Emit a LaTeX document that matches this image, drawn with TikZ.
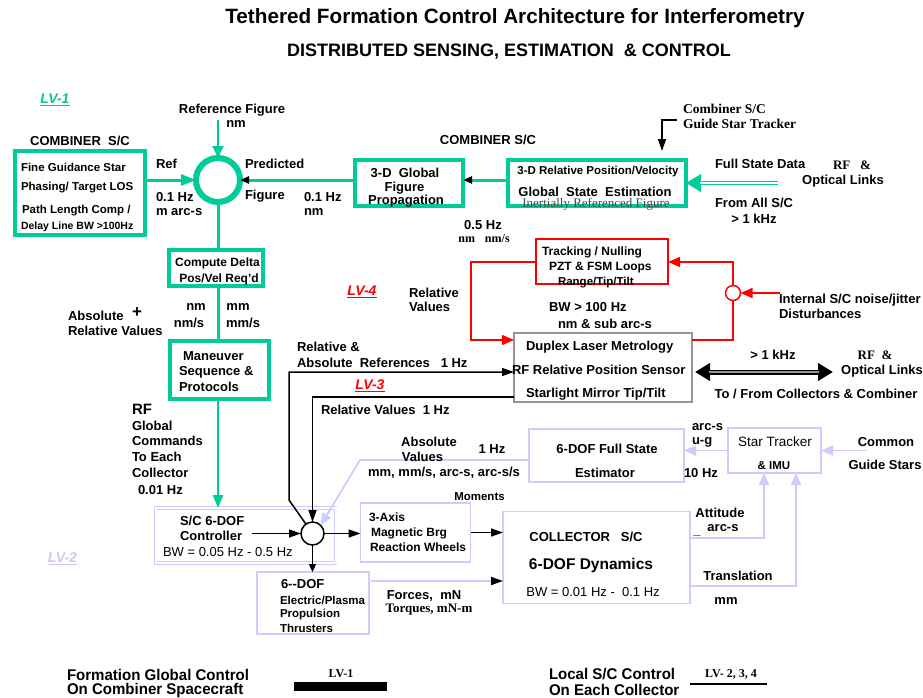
\documentclass[tikz,border=0pt]{standalone}
\usepackage{fontspec}
\setmainfont{Liberation Sans}
\newfontfamily\tms{Liberation Serif}
\newfontfamily\narrowf[FakeStretch=0.97]{Liberation Sans}
\usetikzlibrary{arrows.meta}
\definecolor{grn}{RGB}{0,204,153}
\definecolor{lav}{RGB}{204,204,255}
\definecolor{lavt}{RGB}{200,200,248}
\definecolor{gryb}{RGB}{150,150,150}
\definecolor{dgry}{RGB}{70,70,70}
\tikzset{
  every node/.style={inner sep=0pt, outer sep=0pt},
  lbl/.style={font=\bfseries\fontsize{13}{15}\selectfont},
  lbls/.style={font=\bfseries\fontsize{11.5}{13}\selectfont},
  lblr/.style={font=\fontsize{13}{15}\selectfont},
  tmsb/.style={font=\tms\bfseries\fontsize{13}{15}\selectfont},
  lvlbl/.style={font=\bfseries\itshape\fontsize{14}{16}\selectfont},
  gbox/.style={draw=grn, line width=4pt},
  lbox/.style={draw=lav, line width=1.5pt},
  rbox/.style={draw=red, line width=1.5pt},
  kbox/.style={draw=gryb, line width=1.5pt},
  garr/.style={draw=grn, line width=3pt, -{Triangle[length=15pt,width=11pt]}},
  garrk/.style={draw=grn, line width=3pt, -{Triangle[length=9pt,width=7pt,color=black]}},
  gline/.style={draw=grn, line width=3pt},
  karr/.style={draw=black, line width=1.5pt, -{Triangle[length=12pt,width=8pt]}},
  larr/.style={draw=lav, line width=1.8pt, -{Triangle[length=12pt,width=10pt]}},
  larrk/.style={draw=lav, line width=1.8pt, -{Triangle[length=12pt,width=8pt,color=black]}},
  rarr/.style={draw=red, line width=1.5pt, -{Triangle[length=12pt,width=10pt]}},
  rline/.style={draw=red, line width=1.5pt},
  legf/.style={font=\narrowf\bfseries\fontsize{15.5}{14}\selectfont},
}
\begin{document}
\begin{tikzpicture}[x=1pt,y=-1pt]
\useasboundingbox[fill=white] (0,0) rectangle (923,698);

% titles
\node[font=\bfseries\fontsize{20.7}{23}\selectfont] (title) at (515,18) {Tethered Formation Control Architecture for Interferometry};
\node[font=\bfseries\fontsize{18}{20}\selectfont] (subtitle) at (509,52) {DISTRIBUTED SENSING, ESTIMATION\ \ \& CONTROL};

% ---------- LV-1 region ----------
\node[lvlbl, text=grn] (lv1) at (55,100) {\underline{LV-1}};
\node[lbl] (combl) at (80,141) {COMBINER\ \ S/C};
\node[gbox, minimum width=130pt, minimum height=84pt] (combox) at (80,193) {};
\node[lbls, anchor=west] (cb1) at (21,167) {Fine Guidance Star};
\node[lbls, anchor=west] (cb2) at (21,188) {Phasing/ Target LOS};
\node[lbls, anchor=west] (cb3) at (22,211) {Path Length Comp /};
\node[font=\bfseries\fontsize{10.5}{12}\selectfont, anchor=west] (cb4) at (21,227) {Delay Line BW >100Hz};

\node[circle, draw=grn, line width=6pt, minimum size=44pt] (sum1) at (218,180) {};
\node[lbl] (reffig) at (232,110) {Reference Figure};
\node[lbl] (reffignm) at (236,124) {nm};
\coordinate (reftop) at (218,120);
\draw[draw=grn, line width=2pt, -{Triangle[length=12pt,width=11pt]}] (reftop) -- (sum1.north);

\draw[garr] (combox.east |- sum1.west) -- (sum1.west);
\node[lbl, anchor=west] (refl) at (156,164) {Ref};
\node[lbl, anchor=west] (refhz) at (156,197) {0.1 Hz};
\node[lbl, anchor=west] (refarc) at (156,212) {m arc-s};

\node[lbl, anchor=west] (predl) at (245,164) {Predicted};
\node[lbl, anchor=west] (predf) at (245,196) {Figure};
\node[lbl, anchor=west] (predhz) at (304,197) {0.1 Hz};
\node[lbl, anchor=west] (prednm) at (304,212) {nm};

\node[lbl] (combl2) at (488,140) {COMBINER S/C};
\node[gbox, minimum width=108pt, minimum height=46pt] (glob) at (409,183) {};
\node[lbl] (gl1) at (405,173) {3-D\ \ Global};
\node[lbl] (gl2) at (404.5,188) {Figure};
\node[lbl] (gl3) at (406,201) {Propagation};
\draw[garrk] (glob.west |- sum1.east) -- (sum1.east);

\node[gbox, minimum width=178pt, minimum height=46pt] (rel) at (597,183) {};
\node[font=\bfseries\fontsize{11.5}{13}\selectfont] (rl1) at (598,172) {3-D Relative Position/Velocity};
\node[lbl] (rl2) at (595,191.5) {Global\ \ State\ \ Estimation};
\node[font=\tms\fontsize{13}{15}\selectfont, text=dgry] (rl3) at (596,204.5) {Inertially Referenced Figure};
\draw[garrk] (rel.west |- sum1.east) -- (glob.east |- sum1.east);

\node[lbl] (hz05) at (483,225.5) {0.5 Hz};
\node[font=\tms\bfseries\fontsize{12}{14}\selectfont] (nmnms) at (484,239) {nm\hspace{10pt}nm/s};

\node[font=\tms\bfseries\fontsize{13.5}{15}\selectfont, anchor=west] (gst1) at (683,109) {Combiner S/C};
\node[font=\tms\bfseries\fontsize{13.5}{15}\selectfont, anchor=west] (gst2) at (683,124) {Guide Star Tracker};
\coordinate (gst) at (677,120);
\draw[karr, shorten >=9pt] (gst) -| ([xshift=65pt]rel.north);

\node[lbl, anchor=west] (fsd1) at (715,164) {Full State Data};
\node[tmsb] (fsd2) at (852,165) {RF\ \ \ \&};
\node[lbl] (fsd3) at (843,181) {Optical Links};
\node[lbl, anchor=west] (fsd4) at (715,203) {From All S/C};
\node[lbl] (fsd5) at (754,219) {> 1 kHz};
\coordinate (fsd) at (778,183);
\draw[draw=grn, line width=4.5pt, -{Triangle[length=15pt,width=17pt]}] (fsd) -- (rel.east |- fsd);
\draw[draw=white, line width=1.3pt, shorten >=14pt] (fsd) -- (rel.east |- fsd);

% compute delta / maneuver
\node[gbox, minimum width=94pt, minimum height=36pt] (cd) at (216,268) {};
\node[font=\bfseries\fontsize{12}{14}\selectfont] (cd1) at (217.5,263) {Compute Delta};
\node[font=\bfseries\fontsize{12}{14}\selectfont] (cd2) at (219,279) {Pos/Vel Req'd};
\draw[gline] (sum1.south) -- (sum1.south |- cd.north);

\node[lbl] (u1) at (196,307) {nm};
\node[lbl] (u2) at (189,323) {nm/s};
\node[lbl] (u3) at (238,307) {mm};
\node[lbl] (u4) at (243,323) {mm/s};
\node[lbl, anchor=west] (abs1) at (68,316) {Absolute};
\node[font=\bfseries\fontsize{17}{17}\selectfont] (absplus) at (137,313) {+};
\node[lbl, anchor=west] (abs2) at (68,331) {Relative Values};

\node[gbox, minimum width=99pt, minimum height=58pt] (man) at (219.5,370) {};
\node[lbl, anchor=west] (man1) at (183,356) {Maneuver};
\node[lbl, anchor=west] (man2) at (179,372) {Sequence \&};
\node[lbl, anchor=west] (man3) at (179,387) {Protocols};
\draw[gline] (cd.south -| sum1) -- (man.north -| sum1);

\node[font=\bfseries\fontsize{15}{17}\selectfont, anchor=west] (rf1) at (132,409) {RF};
\node[lbl, anchor=west] (rf2) at (132,426) {Global};
\node[lbl, anchor=west] (rf3) at (132,441) {Commands};
\node[lbl, anchor=west] (rf4) at (132,457) {To Each};
\node[lbl, anchor=west] (rf5) at (132,473) {Collector};
\node[lbl, anchor=west] (rf6) at (138,490) {0.01 Hz};

% ---------- LV-2 region ----------
\node[lvlbl, text=lavt] (lv2) at (62.5,559) {\underline{LV-2}};
\node[draw=lav, line width=0.9pt, double=white, double distance=1.6pt, minimum width=180pt, minimum height=55pt] (ctl) at (245.75,535.5) {};
\node[lbl, anchor=west] (ctl1) at (180,521) {S/C 6-DOF};
\node[lbl, anchor=west] (ctl2) at (180,536) {Controller};
\node[lblr, anchor=west] (ctl3) at (163,552) {BW = 0.05 Hz - 0.5 Hz};
\draw[garr, line width=2.5pt, -{Triangle[length=13pt,width=10pt]}] (man.south -| sum1) -- (ctl.north -| sum1);

\node[circle, draw=black, line width=1.5pt, minimum size=23pt] (sum2) at (312.5,533.5) {};
\coordinate (ctlout) at (252,533.5);
\draw[karr] (ctlout) -- (sum2.west);

\node[lbox, minimum width=110pt, minimum height=59pt] (ax3) at (415.5,532.5) {};
\node[font=\bfseries\fontsize{12}{14}\selectfont, anchor=west] (ax1) at (369,517) {3-Axis};
\node[font=\bfseries\fontsize{12}{14}\selectfont, anchor=west] (ax2) at (371,533) {Magnetic Brg};
\node[font=\bfseries\fontsize{12}{14}\selectfont, anchor=west] (ax4) at (370,547) {Reaction Wheels};
\draw[karr] (sum2.east) -- (ax3.west |- sum2.east);

\node[lbox, minimum width=112pt, minimum height=62pt] (dof) at (313,603) {};
\node[lbl, anchor=west] (dof1) at (281,584) {6-{}-DOF};
\node[font=\bfseries\fontsize{11.5}{13}\selectfont, anchor=west] (dof2) at (280,600) {Electric/Plasma};
\node[font=\bfseries\fontsize{11.5}{13}\selectfont, anchor=west] (dof3) at (280,615) {Propulsion};
\node[font=\bfseries\fontsize{11.5}{13}\selectfont, anchor=west] (dof4) at (280,628) {Thrusters};
\draw[draw=black, line width=1.2pt, -{Triangle[length=8pt,width=7pt]}] (sum2.south) -- (dof.north -| sum2);

\node[lbox, minimum width=187pt, minimum height=92pt] (coll) at (596.5,557.5) {};
\node[lbl] (co1) at (586,537) {COLLECTOR\ \ \ S/C};
\node[font=\bfseries\fontsize{15.5}{17}\selectfont] (co2) at (591,565) {6-DOF Dynamics};
\node[lblr] (co3) at (593,592) {BW = 0.01 Hz -\ \ 0.1 Hz};
\draw[karr] (ax3.east) -- (ax3.east -| coll.west);

\coordinate (fmid) at (371,581);
\draw[larrk] (fmid) -- (fmid -| coll.west);
\node[lbl] (forces) at (424,596) {Forces,\ \ mN};
\node[tmsb] (torques) at (429,609.5) {Torques, mN-m};

\node[lbox, minimum width=155pt, minimum height=53pt] (est) at (606.5,455.5) {};
\node[lbl] (est1) at (607,449) {6-DOF Full State};
\node[lbl] (est2) at (605,473) {Estimator};
\coordinate (ae) at (360,460);
\draw[larr] (est.west |- ae) -- (ae) -- (sum2.45);
\node[lbl] (av1) at (429,442) {Absolute};
\node[lbl] (av2) at (422.5,457) {Values};
\node[lbl] (av3) at (492,449) {1 Hz};
\node[lbl] (av4) at (444,473) {mm, mm/s, arc-s, arc-s/s};
\node[lbls] (mom) at (479.5,497) {Moments};

\node[lbox, minimum width=93pt, minimum height=45pt] (st) at (774.5,450.5) {};
\node[font=\fontsize{13.5}{15}\selectfont] (st1) at (775,442) {Star Tracker};
\node[lbls] (st2) at (774,466) {\& IMU};
\draw[larr] (st.west) -- (est.east |- st.west);
\node[lbl, anchor=west] (sa1) at (692,427) {arc-s};
\node[lbl, anchor=west] (sa2) at (692,442) {u-g};
\node[lbl, anchor=west] (sa3) at (684,473) {10 Hz};
\coordinate (cgs) at (867,450.5);
\draw[larr] (cgs) -- (st.east);
\node[lbl] (cg1) at (886,442) {Common};
\node[lbl] (cg2) at (885,465) {Guide Stars};

\coordinate (at1) at (764,538);
\draw[larr] (coll.east |- at1) -- (at1) -- (st.south -| at1);
\node[lbl] (att1) at (720,513) {Attitude};
\node[lbl] (att2) at (723,528) {arc-s};
\node[lbl] (attus) at (697,535) {\_};
\coordinate (tr1) at (796,586);
\draw[larr] (coll.east |- tr1) -- (tr1) -- (st.south -| tr1);
\node[lbl] (tra1) at (738,576) {Translation};
\node[lbl] (tra2) at (726,601) {mm};

% ---------- LV-3 / LV-4 region ----------
\node[kbox, minimum width=178pt, minimum height=69pt] (dup) at (603,367.5) {};
\node[lbl, anchor=west] (dup1) at (526,347) {Duplex Laser Metrology};
\node[lbl, anchor=west] (dup2) at (512,370) {RF Relative Position Sensor};
\node[lbl, anchor=west] (dup3) at (526,394) {Starlight Mirror Tip/Tilt};

\coordinate (ra1) at (289,500);
\coordinate (ra2) at (289,372);
\draw[karr] (sum2.125) -- (ra1) -- (ra2) -- (dup.west |- ra2);
\node[lbl, anchor=west] (ra1t) at (297,347) {Relative \&};
\node[lbl, anchor=west] (ra2t) at (297,363) {Absolute\ \ References\ \ \ 1 Hz};
\node[lvlbl, text=red] (lv3) at (370,386) {\underline{LV-3}};
\coordinate (rv) at (312.5,397);
\draw[karr] (dup.west |- rv) -- (rv) -- (sum2.north);
\node[lbl, anchor=west] (rvt) at (321,410) {Relative Values\ \ 1 Hz};

\node[rbox, minimum width=132pt, minimum height=45pt] (trk) at (602,261.5) {};
\node[font=\bfseries\fontsize{12}{14}\selectfont, anchor=west] (trk1) at (542,252) {Tracking / Nulling};
\node[font=\bfseries\fontsize{12}{14}\selectfont, anchor=west] (trk2) at (549,268) {PZT \& FSM Loops};
\node[font=\bfseries\fontsize{11.5}{13}\selectfont, anchor=west] (trk3) at (558,283) {Range/Tip/Tilt};
\node[lvlbl, text=red] (lv4) at (362,292) {\underline{LV-4}};
\node[lbl, anchor=west] (rvl1) at (409,293) {Relative};
\node[lbl, anchor=west] (rvl2) at (409,307) {Values};
\node[lbl, anchor=west] (bw1) at (549,307) {BW > 100 Hz};
\node[lbl, anchor=west] (bw2) at (558,324) {nm \& sub arc-s};

\coordinate (r1) at (471,262);
\coordinate (r2) at (471,340);
\draw[rarr] (trk.west |- r1) -- (r1) -- (r2) -- (dup.west |- r2);
\node[circle, draw=red, line width=1.5pt, minimum size=15pt] (sum3) at (733,293) {};
\coordinate (r3) at (733,340);
\coordinate (r4) at (733,262);
\draw[rline] (dup.east |- r3) -- (r3) -- (sum3.south);
\draw[rarr] (sum3.north) -- (r4) -- (trk.east |- r4);
\coordinate (dist) at (780,293);
\draw[rarr] (dist) -- (sum3.east);
\node[lbl, anchor=west] (dis1) at (779,300) {Internal S/C noise/jitter};
\node[lbl, anchor=west] (dis2) at (779,314) {Disturbances};

\coordinate (da1) at (695,372);
\coordinate (da2) at (833,372);
\draw[draw=black, line width=5pt, {Triangle[length=15pt,width=17pt]}-{Triangle[length=15pt,width=17pt]}] (da1) -- (da2);
\draw[draw=gryb, line width=1.5pt, shorten <=14pt, shorten >=14pt] (da1) -- (da2);
\node[lbl] (kh) at (773,355) {> 1 kHz};
\node[tmsb] (rfo1) at (875,355) {RF\ \ \&};
\node[lbl] (rfo2) at (882,371) {Optical Links};
\node[lbl] (tofrom) at (816,394) {To / From Collectors \& Combiner};

% ---------- legend ----------
\node[legf, anchor=west] (leg1a) at (67,675) {Formation Global Control};
\node[legf, anchor=west] (leg1b) at (67,690.5) {On Combiner Spacecraft};
\node[font=\tms\bfseries\fontsize{12}{14}\selectfont] (leglv1) at (341,674) {LV-1};
\node[fill=black, minimum width=93pt, minimum height=9pt] (legbar) at (340.5,686) {};
\node[legf, anchor=west] (leg2a) at (549,674.5) {Local S/C Control};
\node[legf, anchor=west] (leg2b) at (549,690) {On Each Collector};
\node[font=\tms\bfseries\fontsize{12}{14}\selectfont] (leglv2) at (731,674) {LV- 2, 3, 4};
\coordinate (ul1) at (690,684);
\coordinate (ul2) at (767,684);
\draw[line width=1.5pt] (ul1) -- (ul2);
\end{tikzpicture}
\end{document}
